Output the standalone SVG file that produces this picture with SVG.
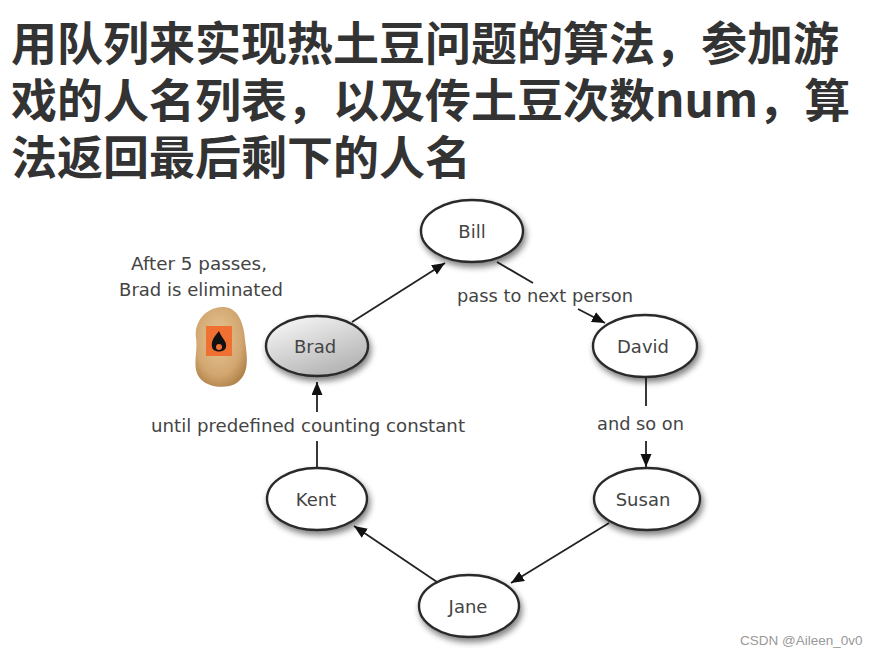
<svg xmlns="http://www.w3.org/2000/svg" width="891" height="656" viewBox="0 0 891 656">
<style>
.title{font-family:"Noto Sans CJK SC","Noto Sans",sans-serif;font-weight:700;font-size:46px;fill:#333}
.node ellipse{fill:#fff;stroke:#2a2a2a;stroke-width:2.4;filter:url(#shadow)}
.nlabel{font-family:"DejaVu Sans","Liberation Sans",sans-serif;font-size:18px;fill:#444;text-anchor:middle}
.elabel{font-family:"DejaVu Sans","Liberation Sans",sans-serif;font-size:17px;fill:#444}
.edge{stroke:#222;stroke-width:1.8;fill:none}
.wm{font-family:"Liberation Sans",Arial,sans-serif;font-size:13.5px;fill:#999}
</style>
<defs>
<filter id="shadow" x="-30%" y="-30%" width="160%" height="170%">
<feGaussianBlur in="SourceAlpha" stdDeviation="3"/>
<feOffset dx="2" dy="4" result="b"/>
<feComponentTransfer><feFuncA type="linear" slope="0.5"/></feComponentTransfer>
<feMerge><feMergeNode/><feMergeNode in="SourceGraphic"/></feMerge>
</filter>
<linearGradient id="bradfill" x1="0.2" y1="0" x2="0.8" y2="1">
<stop offset="0" stop-color="#f6f6f6"/>
<stop offset="1" stop-color="#aeaeae"/>
</linearGradient>
<radialGradient id="potato" cx="0.45" cy="0.4" r="0.65">
<stop offset="0" stop-color="#e6c797"/>
<stop offset="0.7" stop-color="#d2a670"/>
<stop offset="1" stop-color="#b0814a"/>
</radialGradient>
<marker id="arrow" markerUnits="userSpaceOnUse" markerWidth="14" markerHeight="12" refX="13" refY="5.5" orient="auto">
<path d="M0,0 L13,5.5 L0,11 Z" fill="#111"/>
</marker>
</defs>
<rect width="891" height="656" fill="#fff"/>
<g id="title">
<text class="title" x="11" y="60">用队列来实现热土豆问题的算法，参加游</text>
<text class="title" x="11" y="117">戏的人名列表，以及传土豆次数num，算</text>
<text class="title" x="11" y="174">法返回最后剩下的人名</text>
</g>
<g id="connectors">
<line class="edge" x1="352" y1="322" x2="445" y2="263" marker-end="url(#arrow)"/>
<line class="edge" x1="497" y1="262" x2="533" y2="283"/>
<line class="edge" x1="578" y1="309" x2="605" y2="323" marker-end="url(#arrow)"/>
<line class="edge" x1="646" y1="377" x2="646" y2="406"/>
<line class="edge" x1="646" y1="441" x2="646" y2="467" marker-end="url(#arrow)"/>
<line class="edge" x1="609" y1="523" x2="511" y2="583" marker-end="url(#arrow)"/>
<line class="edge" x1="437" y1="582" x2="354" y2="526" marker-end="url(#arrow)"/>
<line class="edge" x1="317" y1="468" x2="317" y2="441"/>
<line class="edge" x1="317" y1="412" x2="317" y2="382" marker-end="url(#arrow)"/>
<text class="elabel" x="457" y="302" textLength="176" lengthAdjust="spacingAndGlyphs">pass to next person</text>
<text class="elabel" x="597" y="430" textLength="87" lengthAdjust="spacingAndGlyphs">and so on</text>
<text class="elabel" x="151" y="432" textLength="314" lengthAdjust="spacingAndGlyphs">until predefined counting constant</text>
</g>
<g id="note">
<text class="elabel" x="131" y="270" textLength="136" lengthAdjust="spacingAndGlyphs">After 5 passes,</text>
<text class="elabel" x="119" y="296" textLength="164" lengthAdjust="spacingAndGlyphs">Brad is eliminated</text>
</g>
<g id="potato-icon">
<path d="M222 307 C237 306 244 322 245 340 C247 356 250 372 238 382 C228 390 206 388 199 377 C192 366 198 352 196 338 C194 322 205 308 222 307 Z" fill="url(#potato)"/>
<rect x="206" y="326" width="26" height="30" fill="#f07032"/>
<path d="M219 331 C214 337 211 341 212 347 C213 353 225 353 226 347 C227 341 222 339 219 331 Z" fill="#111"/>
<circle cx="219" cy="347" r="3" fill="#f07032"/>
</g>
<g id="node-bill" class="node"><ellipse cx="472" cy="231" rx="51" ry="31"/><text class="nlabel" x="472" y="238">Bill</text></g>
<g id="node-david" class="node"><ellipse cx="645" cy="346" rx="52" ry="31"/><text class="nlabel" x="643" y="353">David</text></g>
<g id="node-susan" class="node"><ellipse cx="647" cy="499" rx="53" ry="31"/><text class="nlabel" x="643" y="506">Susan</text></g>
<g id="node-jane" class="node"><ellipse cx="469" cy="606" rx="50" ry="31"/><text class="nlabel" x="468" y="613">Jane</text></g>
<g id="node-kent" class="node"><ellipse cx="317" cy="499" rx="50" ry="31"/><text class="nlabel" x="316" y="506">Kent</text></g>
<g id="node-brad" class="node"><ellipse cx="317" cy="346" rx="51" ry="30" style="fill:url(#bradfill)"/><text class="nlabel" x="315" y="353">Brad</text></g>
<text class="wm" x="740" y="645">CSDN @Aileen_0v0</text>
</svg>
